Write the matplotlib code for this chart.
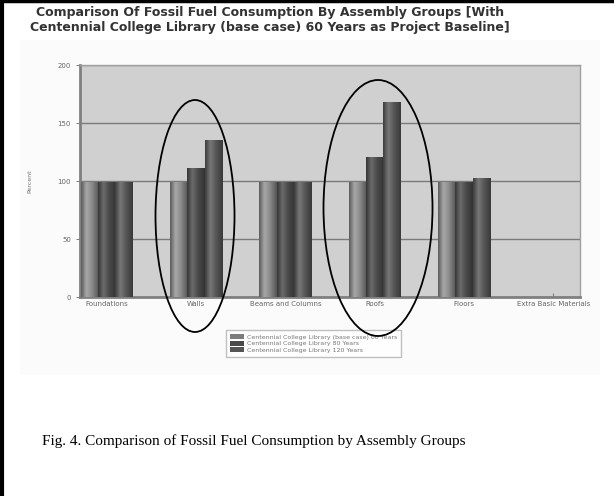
import numpy as np
import matplotlib
matplotlib.use('Agg')
import matplotlib.pyplot as plt
from matplotlib.patches import Ellipse, Rectangle, Patch
from matplotlib.colors import LinearSegmentedColormap

groups = ['Foundations', 'Walls', 'Beams and Columns', 'Roofs', 'Floors', 'Extra Basic Materials']
series_names = ['Centennial College Library (base case) 60 Years',
                'Centennial College Library 80 Years',
                'Centennial College Library 120 Years']
base_60 = [99, 99, 99, 99, 99, 0]
years_80 = [99, 111, 99, 121, 99.5, 0]
years_120 = [99, 135, 99, 168, 103, 0]
yticks = [0, 50, 100, 150, 200]

# shading for the "cylinder" bars: edge, highlight, mid, edge
shades = [['#5a5a5a', '#a8a8a8', '#8c8c8c', '#555555'],
          ['#363636', '#6c6c6c', '#4c4c4c', '#333333'],
          ['#3c3c3c', '#787878', '#585858', '#393939']]
swatch = ['#7c7c7c', '#4a4a4a', '#555555']

fig = plt.figure(figsize=(6.14, 4.96), dpi=100)
fig.patch.set_facecolor('white')

# frame lines of the page and light chart background
fig.add_artist(Rectangle((20 / 614, 1 - 375 / 496), 580 / 614, 335 / 496,
                         transform=fig.transFigure, facecolor='#fbfbfb', edgecolor='none', zorder=0))
fig.add_artist(plt.Line2D([0.004, 0.004], [0, 1], color='black', lw=3, transform=fig.transFigure))
fig.add_artist(plt.Line2D([0, 1], [0.997, 0.997], color='black', lw=2.5, transform=fig.transFigure))

ax = fig.add_axes([80 / 614, 1 - 297 / 496, 500 / 614, 232 / 496])
ax.set_facecolor('#d0d0d0')

x = np.arange(len(groups))
w = 0.195
all_bars = []
for i, vals in enumerate([base_60, years_80, years_120]):
    bars = ax.bar(x + (i - 1) * w, vals, width=w, color=swatch[i], edgecolor='none', zorder=3)
    all_bars.append(bars)

grad = np.linspace(0, 1, 64).reshape(1, -1)
for i, bars in enumerate(all_bars):
    cmap = LinearSegmentedColormap.from_list('c%d' % i, list(zip([0, 0.3, 0.6, 1], shades[i])))
    for r in bars:
        if r.get_height() <= 0:
            continue
        im = ax.imshow(grad, extent=[r.get_x(), r.get_x() + r.get_width(), 0, r.get_height()],
                       aspect='auto', cmap=cmap, zorder=4, interpolation='bicubic')
        im.set_clip_path(r)

ax.set_xlim(-0.3, 5.3)
ax.set_ylim(0, 200)
ax.set_yticks(yticks)
ax.yaxis.grid(True, color='#7a7a7a', lw=1)
ax.set_axisbelow(True)
ax.set_xticks(x)
ax.set_xticklabels(groups)
ax.tick_params(axis='both', labelsize=5, colors='#666666', length=3, width=0.6)
ax.tick_params(axis='x', direction='in', pad=3)
for s in ['left', 'bottom']:
    ax.spines[s].set_color('#808080')
    ax.spines[s].set_linewidth(2)
for s in ['top', 'right']:
    ax.spines[s].set_color('#a0a0a0')
    ax.spines[s].set_linewidth(1)
ax.set_ylabel('Percent', fontsize=4.5, color='#777777', labelpad=18)

fig.text(0.44, 1 - 6 / 496, 'Comparison Of Fossil Fuel Consumption By Assembly Groups [With\n'
         'Centennial College Library (base case) 60 Years as Project Baseline]',
         ha='center', va='top', fontsize=9, fontweight='bold', color='#333333', linespacing=1.2)

handles = [Patch(facecolor=swatch[i], edgecolor='none') for i in range(3)]
leg = fig.legend(handles, series_names, loc='upper left', bbox_to_anchor=(223 / 614, 1 - 327 / 496),
                 fontsize=4.5, frameon=True, fancybox=False, edgecolor='#b0b0b0',
                 handlelength=2.2, handleheight=0.9, labelspacing=0.15, borderpad=0.6,
                 handletextpad=0.6)
for t in leg.get_texts():
    t.set_color('#777777')

# hand drawn highlight ellipses
fig.add_artist(Ellipse((195 / 614, 1 - 216 / 496), 79 / 614, 232 / 496, transform=fig.transFigure,
                       fill=False, edgecolor='black', lw=1.3, zorder=10))
fig.add_artist(Ellipse((378 / 614, 1 - 208 / 496), 109 / 614, 256 / 496, transform=fig.transFigure,
                       fill=False, edgecolor='black', lw=1.3, zorder=10))

fig.text(42 / 614, 1 - 445 / 496, 'Fig. 4. Comparison of Fossil Fuel Consumption by Assembly Groups',
         fontsize=11, family='Liberation Serif', va='baseline', ha='left')

fig.savefig('out.png', dpi=100)
